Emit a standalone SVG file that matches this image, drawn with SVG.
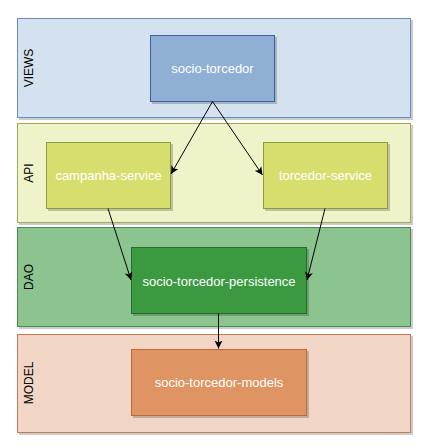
<svg xmlns="http://www.w3.org/2000/svg" width="426" height="446" viewBox="0 0 426 446">
<defs>
<marker id="arr" markerWidth="10" markerHeight="10" refX="8" refY="4" orient="auto" markerUnits="userSpaceOnUse">
<path d="M0,0 L8,4 L0,8 L2,4 Z" fill="#000"/>
</marker>
<filter id="sh" x="-10%" y="-10%" width="130%" height="130%">
<feOffset dx="2" dy="2" in="SourceAlpha" result="o"/>
<feComponentTransfer in="o" result="o2"><feFuncA type="linear" slope="0.2"/></feComponentTransfer>
<feMerge><feMergeNode in="o2"/><feMergeNode in="SourceGraphic"/></feMerge>
</filter>
</defs>
<style>
.lane{stroke-width:1}
.node{stroke-width:1}
.lt{font-family:"Liberation Sans",Arial,sans-serif;font-size:12px;fill:#000;text-anchor:middle;dominant-baseline:central}
.nt{font-family:"Liberation Sans",Arial,sans-serif;font-size:13px;fill:#fff;text-anchor:middle;dominant-baseline:central}
.edge{stroke:#000;stroke-width:1;fill:none;marker-end:url(#arr)}
</style>
<rect width="426" height="446" fill="#fff"/>
<g id="lane-views">
<rect class="lane" x="17.5" y="18.5" width="393" height="99" fill="#d4e1ef" stroke="#6c8ebf" filter="url(#sh)"/>
<text class="lt" transform="translate(29,68) rotate(-90)">VIEWS</text>
</g>
<g id="lane-api">
<rect class="lane" x="17.5" y="123.5" width="393" height="99" fill="#eef3ca" stroke="#a2ab52" filter="url(#sh)"/>
<text class="lt" transform="translate(29,173) rotate(-90)">API</text>
</g>
<g id="lane-dao">
<rect class="lane" x="17.5" y="227.5" width="393" height="99" fill="#8bc48f" stroke="#4c8a50" filter="url(#sh)"/>
<text class="lt" transform="translate(29,277) rotate(-90)">DAO</text>
</g>
<g id="lane-model">
<rect class="lane" x="17.5" y="334.5" width="393" height="98" fill="#f2d6c5" stroke="#c27a55" filter="url(#sh)"/>
<text class="lt" transform="translate(29,383) rotate(-90)">MODEL</text>
</g>
<g id="node-socio-torcedor">
<rect class="node" x="150.5" y="35.5" width="124" height="66" fill="#8fafd4" stroke="#3d5fa0" filter="url(#sh)"/>
<text class="nt" x="212.5" y="68">socio-torcedor</text>
</g>
<g id="node-campanha-service">
<rect class="node" x="46.5" y="142.5" width="124" height="66" fill="#d6df6e" stroke="#8f9a3a" filter="url(#sh)"/>
<text class="nt" x="108.5" y="175.5">campanha-service</text>
</g>
<g id="node-torcedor-service">
<rect class="node" x="263.5" y="142.5" width="124" height="66" fill="#d6df6e" stroke="#8f9a3a" filter="url(#sh)"/>
<text class="nt" x="325.5" y="175.5">torcedor-service</text>
</g>
<g id="node-persistence">
<rect class="node" x="131.5" y="247.5" width="175" height="66" fill="#3b9a40" stroke="#2a6b2e" filter="url(#sh)"/>
<text class="nt" x="219" y="281">socio-torcedor-persistence</text>
</g>
<g id="node-models">
<rect class="node" x="131.5" y="349.5" width="175" height="66" fill="#de9464" stroke="#c2693a" filter="url(#sh)"/>
<text class="nt" x="219" y="382.5">socio-torcedor-models</text>
</g>
<g id="connectors">
<path class="edge" d="M212.5,101.5 L171,174"/>
<path class="edge" d="M212.5,101.5 L262.5,175"/>
<path class="edge" d="M108,208.5 L131,280"/>
<path class="edge" d="M325,208.5 L307,280"/>
<path class="edge" d="M218.5,313.5 L218.5,348.5"/>
</g>
</svg>
